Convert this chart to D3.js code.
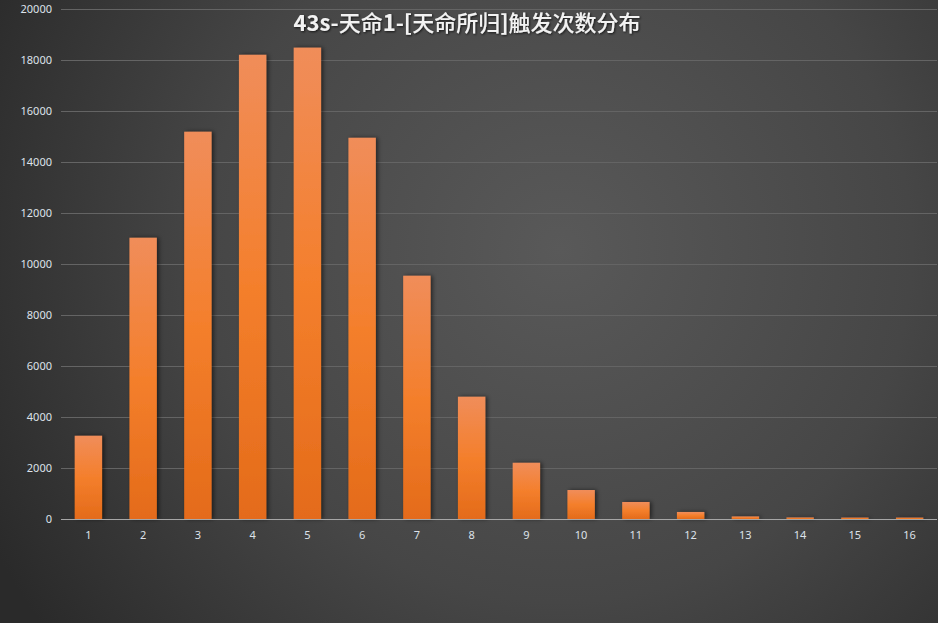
<!DOCTYPE html>
<html><head><meta charset="utf-8">
<script src="https://cdn.jsdelivr.net/npm/d3@7"></script>
<style>html,body{margin:0;padding:0;background:#333;}svg{display:block;}</style>
</head><body>
<svg id="c" width="938" height="623"></svg>
<script>
const categories = ["1","2","3","4","5","6","7","8","9","10","11","12","13","14","15","16"];
const counts = [3265, 11030, 15188, 18205, 18485, 14950, 9540, 4795, 2205, 1137, 667, 275, 100, 60, 55, 55];
const yTicks = [0, 2000, 4000, 6000, 8000, 10000, 12000, 14000, 16000, 18000, 20000];
const title = "43s-天命1-[天命所归]触发次数分布";

(function(){
const W = 938, H = 623;
const svg = d3.select("#c");
const defs = svg.append("defs");

const bg = defs.append("radialGradient").attr("id","bg")
  .attr("gradientUnits","userSpaceOnUse").attr("cx",560).attr("cy",250).attr("r",640);
bg.append("stop").attr("offset","0").attr("stop-color","#595959");
bg.append("stop").attr("offset","0.55").attr("stop-color","#464646");
bg.append("stop").attr("offset","1").attr("stop-color","#2a2a2a");

const bar = defs.append("linearGradient").attr("id","bar").attr("x1",0).attr("y1",0).attr("x2",0).attr("y2",1);
bar.append("stop").attr("offset","0").attr("stop-color","#f08d5a");
bar.append("stop").attr("offset","0.5").attr("stop-color","#f47f2c");
bar.append("stop").attr("offset","1").attr("stop-color","#e46b1a");

const sh = defs.append("filter").attr("id","sh").attr("x","-30%").attr("y","-10%").attr("width","160%").attr("height","120%");
sh.append("feDropShadow").attr("dx",2).attr("dy",0).attr("stdDeviation",2).attr("flood-color","#000").attr("flood-opacity",0.55);

const ts = defs.append("filter").attr("id","ts").attr("x","-10%").attr("y","-30%").attr("width","120%").attr("height","160%");
ts.append("feDropShadow").attr("dx",1).attr("dy",1).attr("stdDeviation",1).attr("flood-color","#000").attr("flood-opacity",0.7);

svg.append("rect").attr("width",W).attr("height",H).attr("fill","url(#bg)");

const pl = 61, pr = 937, pt = 9, pb = 519;
const x = d3.scaleBand().domain(categories).range([pl,pr]).paddingInner(0.5).paddingOuter(0.25);
const y = d3.scaleLinear().domain([0,20000]).range([pb,pt]);

svg.append("g").selectAll("line").data(yTicks.filter(d=>d>0)).join("line")
  .attr("x1",pl).attr("x2",pr).attr("y1",d=>Math.round(y(d))+0.5).attr("y2",d=>Math.round(y(d))+0.5)
  .attr("stroke","#646464").attr("stroke-width",1);

svg.append("g").selectAll("text").data(yTicks).join("text")
  .attr("x",52).attr("y",d=>y(d)).attr("dy","0.35em").attr("text-anchor","end")
  .attr("fill","#dde2ea").attr("font-family","'Noto Sans','DejaVu Sans',sans-serif").attr("font-size",11)
  .text(d=>d);

svg.append("g").attr("filter","url(#sh)").selectAll("rect").data(counts).join("rect")
  .attr("x",(d,i)=>x(categories[i])).attr("width",x.bandwidth())
  .attr("y",d=>y(d)).attr("height",d=>pb-y(d))
  .attr("fill","url(#bar)");

svg.append("line").attr("x1",pl).attr("x2",pr).attr("y1",pb+0.5).attr("y2",pb+0.5)
  .attr("stroke","#a6a6a6").attr("stroke-width",1.2);

svg.append("g").selectAll("text").data(categories).join("text")
  .attr("x",d=>x(d)+x.bandwidth()/2).attr("y",539).attr("text-anchor","middle")
  .attr("fill","#dde2ea").attr("font-family","'Noto Sans','DejaVu Sans',sans-serif").attr("font-size",11)
  .text(d=>d);

// title: Latin runs bold, CJK runs medium weight
const parts = title.match(/[\u3400-\u9fff]+|[^\u3400-\u9fff]+/g);
const t = svg.append("text").attr("x",467).attr("y",31).attr("text-anchor","middle")
  .attr("fill","#f2f2f2").attr("font-family","'Noto Sans CJK SC','Noto Sans',sans-serif")
  .attr("font-size",22).attr("filter","url(#ts)");
t.selectAll("tspan").data(parts).join("tspan")
  .attr("font-weight",d=>/[\u3400-\u9fff]/.test(d)?500:"bold")
  .text(d=>d);
})();
</script>
</body></html>
